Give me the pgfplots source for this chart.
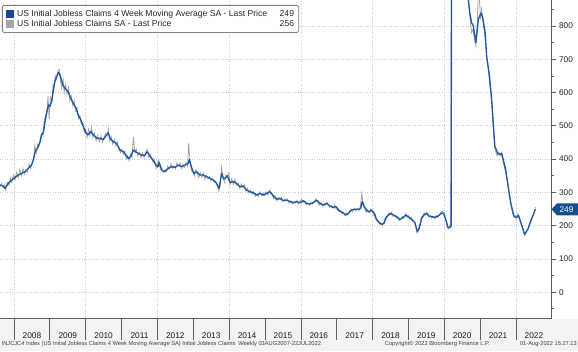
\documentclass[border=0pt]{standalone}
\usepackage{fontspec}
\setmainfont{Liberation Sans}
\usepackage{pgfplots}
\usepackage{pgfplotstable}
\pgfplotsset{compat=1.18}
\definecolor{mablue}{RGB}{31,90,160}
\definecolor{legblue}{RGB}{22,72,150}
\definecolor{wkgrey}{RGB}{165,165,165}
\definecolor{gridc}{RGB}{198,204,220}
\definecolor{axc}{RGB}{95,95,95}
\definecolor{tagblue}{RGB}{24,78,145}
\definecolor{bandc}{RGB}{243,243,243}

% 4-week moving average (thousands)
\pgfplotstableread{
x y
2007.61 322
2007.70 319
2007.75 312
2007.84 327
2007.94 337
2008.03 345
2008.12 352
2008.21 357
2008.31 362
2008.40 372
2008.49 382
2008.54 397
2008.59 422
2008.65 432
2008.73 452
2008.77 473
2008.82 480
2008.86 508
2008.91 538
2008.96 563
2009.00 558
2009.05 573
2009.10 608
2009.14 633
2009.21 653
2009.25 660
2009.30 648
2009.36 623
2009.42 613
2009.51 603
2009.58 583
2009.65 568
2009.73 553
2009.79 533
2009.86 518
2009.93 498
2010.01 478
2010.07 473
2010.14 483
2010.21 473
2010.31 463
2010.40 462
2010.49 459
2010.58 472
2010.63 479
2010.68 462
2010.77 452
2010.86 447
2010.96 427
2011.05 422
2011.12 412
2011.19 402
2011.25 407
2011.33 427
2011.39 422
2011.47 417
2011.56 412
2011.65 412
2011.72 422
2011.79 409
2011.88 397
2011.96 382
2012.02 377
2012.05 390
2012.12 367
2012.21 362
2012.30 372
2012.40 377
2012.49 375
2012.58 382
2012.68 377
2012.77 382
2012.86 387
2012.89 399
2012.96 372
2013.02 357
2013.09 362
2013.19 352
2013.28 352
2013.37 347
2013.47 342
2013.56 337
2013.65 327
2013.72 312
2013.79 357
2013.85 340
2013.91 345
2013.95 350
2014.02 330
2014.12 332
2014.21 327
2014.30 317
2014.39 319
2014.49 307
2014.58 302
2014.67 299
2014.77 292
2014.86 297
2014.95 292
2015.05 297
2015.14 302
2015.18 297
2015.25 287
2015.33 279
2015.42 282
2015.51 275
2015.60 277
2015.70 272
2015.79 269
2015.88 272
2015.98 269
2016.07 275
2016.16 267
2016.25 265
2016.35 269
2016.44 277
2016.53 267
2016.62 262
2016.72 267
2016.81 259
2016.90 255
2016.98 257
2017.07 245
2017.17 239
2017.26 232
2017.32 237
2017.42 247
2017.51 249
2017.60 249
2017.67 252
2017.71 272
2017.77 257
2017.84 245
2017.91 242
2017.97 247
2018.05 237
2018.11 219
2018.19 209
2018.25 204
2018.32 207
2018.37 222
2018.44 232
2018.50 237
2018.58 232
2018.67 227
2018.76 219
2018.86 225
2018.93 232
2018.99 227
2019.09 219
2019.18 209
2019.25 182
2019.30 192
2019.37 222
2019.43 232
2019.51 237
2019.57 229
2019.65 227
2019.74 225
2019.83 229
2019.92 237
2019.98 238
2020.06 212
2020.10 195
2020.15 194
2020.19 198
2020.21 1500
2020.23 2900
2020.25 4300
2020.30 3800
2020.40 2300
2020.50 1400
2020.60 1000
2020.67 880
2020.71 840
2020.76 810
2020.81 800
2020.88 750
2020.95 820
2021.02 838
2021.07 826
2021.14 780
2021.18 710
2021.26 650
2021.32 580
2021.37 499
2021.41 439
2021.48 419
2021.53 414
2021.60 417
2021.64 399
2021.71 369
2021.78 319
2021.85 269
2021.94 229
2022.01 224
2022.07 231
2022.15 204
2022.24 174
2022.33 189
2022.43 219
2022.54 249
}\matab

% weekly initial claims (thousands)
\pgfplotstableread{
x y
2007.61 318
2007.65 326
2007.70 314
2007.73 322
2007.77 308
2007.81 330
2007.86 322
2007.90 343
2007.94 330
2007.98 352
2008.03 338
2008.07 360
2008.12 345
2008.16 368
2008.21 350
2008.25 372
2008.29 355
2008.33 368
2008.38 360
2008.42 385
2008.47 372
2008.51 392
2008.55 402
2008.58 440
2008.62 418
2008.66 445
2008.70 440
2008.74 465
2008.78 478
2008.81 470
2008.84 515
2008.88 530
2008.92 545
2008.95 590
2008.98 520
2009.02 585
2009.06 575
2009.09 625
2009.12 620
2009.15 650
2009.19 640
2009.22 665
2009.26 670
2009.29 640
2009.33 612
2009.37 640
2009.40 600
2009.44 625
2009.48 595
2009.52 615
2009.56 575
2009.60 590
2009.64 560
2009.68 575
2009.72 545
2009.76 555
2009.80 522
2009.84 530
2009.88 505
2009.92 510
2009.96 480
2010.00 490
2010.04 465
2010.08 490
2010.12 470
2010.16 495
2010.20 465
2010.24 478
2010.29 455
2010.33 470
2010.38 452
2010.43 470
2010.47 450
2010.52 468
2010.56 478
2010.60 470
2010.63 490
2010.67 455
2010.71 468
2010.75 445
2010.80 458
2010.84 440
2010.88 452
2010.92 430
2010.97 420
2011.01 430
2011.05 415
2011.09 425
2011.13 400
2011.17 410
2011.21 395
2011.25 415
2011.29 405
2011.33 467
2011.37 420
2011.41 430
2011.45 410
2011.50 420
2011.54 405
2011.58 418
2011.63 405
2011.67 420
2011.71 430
2011.75 405
2011.80 415
2011.84 400
2011.88 390
2011.92 395
2011.96 372
2012.00 385
2012.04 398
2012.08 368
2012.12 372
2012.16 360
2012.21 368
2012.25 365
2012.29 380
2012.33 370
2012.38 385
2012.42 372
2012.46 380
2012.50 370
2012.54 388
2012.58 378
2012.63 388
2012.67 372
2012.71 385
2012.75 375
2012.80 390
2012.84 380
2012.87 447
2012.91 395
2012.95 365
2012.99 360
2013.03 350
2013.07 368
2013.11 358
2013.15 345
2013.20 358
2013.24 345
2013.28 358
2013.32 340
2013.36 352
2013.41 340
2013.45 348
2013.49 335
2013.54 342
2013.58 330
2013.63 335
2013.67 318
2013.71 305
2013.75 320
2013.79 375
2013.83 345
2013.87 330
2013.91 352
2013.95 345
2013.99 358
2014.03 325
2014.07 340
2014.12 325
2014.16 338
2014.21 320
2014.25 328
2014.30 312
2014.34 325
2014.38 315
2014.43 322
2014.47 302
2014.51 312
2014.55 298
2014.60 305
2014.64 295
2014.68 302
2014.73 288
2014.77 295
2014.82 287
2014.86 302
2014.91 290
2014.95 298
2014.99 290
2015.03 302
2015.08 292
2015.12 308
2015.16 296
2015.20 292
2015.24 282
2015.28 290
2015.33 275
2015.37 285
2015.42 278
2015.46 284
2015.50 272
2015.55 280
2015.59 274
2015.63 280
2015.67 268
2015.72 275
2015.76 265
2015.80 272
2015.85 268
2015.89 276
2015.93 265
2015.97 272
2016.02 280
2016.06 270
2016.11 272
2016.15 262
2016.20 268
2016.24 260
2016.29 270
2016.33 265
2016.38 274
2016.42 280
2016.46 270
2016.51 262
2016.55 270
2016.60 258
2016.64 264
2016.68 260
2016.73 270
2016.77 262
2016.81 255
2016.85 260
2016.90 252
2016.94 262
2016.98 250
2017.02 248
2017.06 242
2017.10 246
2017.15 236
2017.19 240
2017.23 230
2017.27 238
2017.31 232
2017.36 244
2017.40 250
2017.44 242
2017.49 252
2017.53 245
2017.57 252
2017.62 245
2017.66 258
2017.70 297
2017.74 262
2017.78 252
2017.82 240
2017.86 248
2017.90 238
2017.95 250
2017.99 244
2018.03 232
2018.07 225
2018.11 215
2018.15 212
2018.19 205
2018.23 208
2018.28 200
2018.32 212
2018.36 226
2018.40 228
2018.45 238
2018.49 232
2018.53 240
2018.57 228
2018.62 230
2018.66 222
2018.70 225
2018.74 215
2018.79 220
2018.83 228
2018.87 222
2018.91 236
2018.96 225
2019.00 230
2019.04 220
2019.08 224
2019.12 212
2019.16 212
2019.20 198
2019.24 178
2019.28 188
2019.32 205
2019.36 226
2019.40 228
2019.44 238
2019.48 232
2019.52 240
2019.57 226
2019.61 230
2019.65 222
2019.70 228
2019.74 220
2019.78 230
2019.82 225
2019.86 234
2019.91 240
2019.95 244
2019.99 232
2020.03 220
2020.07 205
2020.11 190
2020.15 200
2020.19 210
2020.20 2900
2020.22 6800
2020.25 6200
2020.28 4500
2020.35 3000
2020.45 1700
2020.55 1200
2020.63 960
2020.66 880
2020.69 860
2020.72 820
2020.76 780
2020.80 790
2020.84 760
2020.88 740
2020.91 780
2020.95 900
2020.98 880
2021.01 820
2021.04 850
2021.08 810
2021.12 780
2021.16 740
2021.19 700
2021.23 670
2021.27 620
2021.30 600
2021.34 550
2021.37 490
2021.40 440
2021.44 420
2021.48 410
2021.52 420
2021.56 410
2021.60 420
2021.63 400
2021.67 380
2021.71 360
2021.75 340
2021.79 310
2021.83 285
2021.87 265
2021.90 240
2021.94 225
2021.98 230
2022.02 220
2022.05 235
2022.09 222
2022.13 210
2022.17 200
2022.21 180
2022.25 170
2022.29 182
2022.33 190
2022.37 200
2022.41 215
2022.45 225
2022.49 235
2022.52 245
2022.54 256
}\wktab

\begin{document}
\begin{tikzpicture}[x=1pt,y=1pt]
\path[use as bounding box] (0,0) rectangle (578,351);
\fill[white] (0,0) rectangle (578,351);
\fill[bandc] (0,0) rectangle (578,32.5);
\pgfplotsset{base/.style={scale only axis, width=551.5pt, height=318.5pt,
  at={(0pt,32.5pt)}, anchor=south west,
  xmin=2007.61, xmax=2022.99, ymin=-79, ymax=878,
  /pgf/number format/assume math mode=true}}
% grid + data + legend
\begin{axis}[base, axis line style={draw=none},
  xtick={2008,2010,...,2022}, ytick={0,100,...,800},
  xticklabels={}, yticklabels={}, major tick length=0pt,
  grid=major, grid style={gridc, dotted, line width=0.7pt},
  legend cell align=left,
  legend style={at={(0.0036,0.9843)}, anchor=north west, draw=gray,
    line width=0.8pt,
    fill=white, rounded corners=1.5pt, inner xsep=4pt, inner ysep=4pt,
    font=\fontsize{8.6}{9.5}\selectfont, row sep=1.2pt,
    nodes={inner sep=0.6pt}, text=black!85,
    /tikz/every odd column/.style={column sep=2.5pt}}]
\addlegendimage{legend image code/.code={\fill[legblue, sharp corners] (0pt,-3.3pt) rectangle (6.8pt,3.3pt);}}
\addlegendentry{\makebox[277pt][l]{US Initial Jobless Claims 4 Week Moving Average SA - Last Price\hfill 249}}
\addlegendimage{legend image code/.code={\fill[wkgrey, sharp corners] (0pt,-3.3pt) rectangle (6.8pt,3.3pt);}}
\addlegendentry{\makebox[277pt][l]{US Initial Jobless Claims SA - Last Price\hfill 256}}
\addplot[wkgrey, line width=0.8pt, forget plot] table {\wktab};
\addplot[mablue, line width=1.35pt, line join=round, forget plot] table {\matab};
\end{axis}
% x axis with year separators
\begin{axis}[base, axis x line*=bottom, axis y line=none, ytick=\empty,
  x axis line style={draw=axc, -, line width=0.8pt},
  xtick={2008,2009,2010,2011,2012,2013,2014,2015,2016,2017,2018,2019,2020,2021,2022},
  xticklabels={2008,2009,2010,2011,2012,2013,2014,2015,2016,2017,2018,2019,2020,2021,2022},
  tick align=outside, major tick length=21pt,
  xtick style={draw=axc, line width=0.7pt},
  xticklabel style={xshift=17.93pt, font=\fontsize{8.3}{9}\selectfont, text=black!90},
  xticklabel shift=-10pt]
\end{axis}
% right y axis
\begin{axis}[base, axis y line*=right, axis x line=none, xtick=\empty,
  y axis line style={draw=axc, -, line width=0.8pt},
  ytick={0,100,...,800}, minor ytick={-50,50,...,850},
  yticklabel pos=right, tick align=outside,
  major tick length=4pt, minor tick length=2.5pt,
  ytick style={draw=axc, line width=0.7pt},
  yticklabel style={font=\fontsize{8.3}{9}\selectfont, text=black!85},
  clip=false]
\fill[tagblue] (axis cs:2022.99,249) -- ++(5.5pt,6pt) -- ++(21pt,0pt) -- ++(0pt,-12pt) -- ++(-21pt,0pt) -- cycle;
\node[text=white, font=\fontsize{8.3}{9}\selectfont] at ([xshift=15pt]axis cs:2022.99,249) {249};
\end{axis}
\node[anchor=west, font=\fontsize{5.7}{6}\selectfont, text=black!75, inner sep=0pt] at (1.5,7) {INJCJC4 Index (US Initial Jobless Claims 4 Week Moving Average SA) Initial Jobless Claims\enspace Weekly 03AUG2007-22JUL2022};
\node[anchor=east, font=\fontsize{5.7}{6}\selectfont, text=black!75, inner sep=0pt] at (490,7) {Copyright© 2022 Bloomberg Finance L.P.};
\node[anchor=east, font=\fontsize{5.7}{6}\selectfont, text=black!75, inner sep=0pt] at (577,7) {01-Aug-2022 15:27:13};
\end{tikzpicture}
\end{document}
